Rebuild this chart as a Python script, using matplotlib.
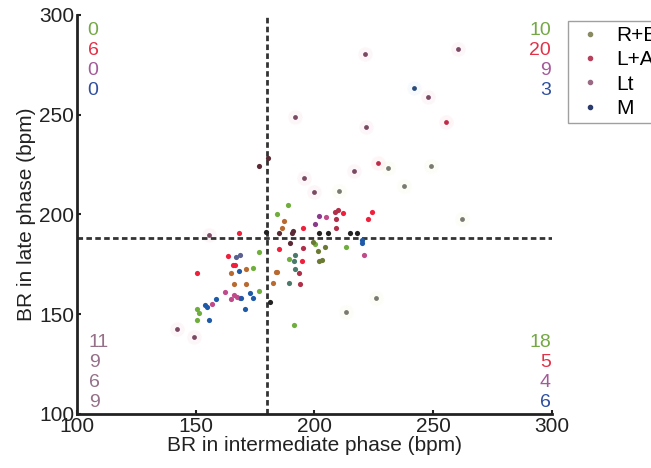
import numpy as np
from matplotlib import pyplot as plt
from matplotlib.lines import Line2D

plt.rcParams['font.family'] = ['Liberation Sans', 'DejaVu Sans']

# point groups (BR intermediate, BR late)
green_x = [176.5, 174.0, 176.5, 150.5, 151.4, 150.5, 188.7, 184.1, 213.3, 200.2, 189.3, 191.5]
green_y = [181.2, 173.2, 161.7, 152.6, 150.8, 147.1, 204.6, 200.4, 183.9, 185.0, 177.9, 144.8]
olive_x = [204.4, 201.6, 202.0, 203.0, 199.5]
olive_y = [183.9, 181.7, 176.7, 177.2, 186.0]
red_x = [163.4, 165.7, 166.5, 150.4, 168.1, 195.0, 212.0, 224.1, 222.5, 185.2, 194.7]
red_y = [179.2, 174.8, 174.7, 170.5, 190.6, 193.1, 200.6, 201.3, 197.6, 182.9, 176.7]
crimson_x = [208.5, 209.9, 209.2, 209.1, 195.3, 194.0, 193.3]
crimson_y = [201.4, 202.3, 197.6, 193.1, 183.4, 165.0, 170.8]
magenta_x = [162.4, 166.1, 167.2, 168.6, 164.8, 156.7, 204.7, 220.8]
magenta_y = [161.3, 159.6, 158.5, 158.3, 157.6, 155.3, 198.6, 179.7]
purple_x = [201.9, 200.3]
purple_y = [199.2, 195.2]
blue_x = [168.2, 172.8, 174.0, 169.1, 158.5, 154.0, 154.9, 170.6, 155.6, 219.9, 220.2]
blue_y = [171.7, 160.8, 158.0, 158.3, 157.8, 154.5, 153.5, 152.5, 147.1, 187.2, 185.9]
slate_x = [166.9, 168.6]
slate_y = [178.7, 179.7]
brown_x = [171.0, 164.8, 166.0, 171.3, 187.3, 186.3, 183.7, 184.3, 182.7]
brown_y = [172.7, 170.7, 165.0, 165.3, 196.7, 193.4, 171.2, 171.2, 165.7]
teal_x = [191.9, 191.5, 191.8, 189.3]
teal_y = [179.7, 176.9, 172.7, 165.8]
maroon_x = [176.8, 180.3, 191.1, 190.4, 185.2, 189.7]
maroon_y = [224.5, 228.5, 191.7, 190.9, 190.6, 185.9]
black_x = [202.0, 205.5, 215.0, 217.8, 179.4, 181.3]
black_y = [190.9, 190.6, 190.6, 190.9, 191.0, 156.1]

# faint haloed points
halo_pink_x = [142.0, 149.4, 155.4, 195.4, 199.9, 216.8, 221.3, 260.5, 247.9, 221.7, 191.8]
halo_pink_y = [142.8, 138.8, 189.7, 218.3, 211.1, 222.0, 280.3, 283.0, 259.1, 243.7, 248.7]
halo_red_x = [226.9, 255.4]
halo_red_y = [226.0, 246.5]
halo_grey_x = [210.3, 230.9, 248.9, 237.7, 262.1, 213.1, 225.8]
halo_grey_y = [211.9, 223.2, 224.5, 214.3, 197.7, 151.3, 158.3]
halo_blue_x = [241.8]
halo_blue_y = [263.6]

x_cut = 180
y_cut = 188

groups = ['R+B', 'L+A', 'Lt', 'M']
counts_tl = ['0', '6', '0', '0']
counts_tr = ['10', '20', '9', '3']
counts_bl = ['11', '9', '6', '9']
counts_br = ['18', '5', '4', '6']
count_colors = ['#74a845', '#e23148', '#a35a98', '#2f4f9e']
bl_color = '#957089'

fig = plt.figure(figsize=(6.51, 4.68), dpi=100)
ax = fig.add_axes([0.1183, 0.1154, 0.7296, 0.8526])

dot = dict(s=14, linewidths=0, zorder=3)
ax.scatter(green_x, green_y, color='#6fae3c', **dot)
ax.scatter(olive_x, olive_y, color='#6b7a32', **dot)
ax.scatter(red_x, red_y, color='#f0203c', **dot)
ax.scatter(crimson_x, crimson_y, color='#b0304a', **dot)
ax.scatter(magenta_x, magenta_y, color='#c04a8a', **dot)
ax.scatter(purple_x, purple_y, color='#8a3a8a', **dot)
ax.scatter(blue_x, blue_y, color='#1e5aa8', **dot)
ax.scatter(slate_x, slate_y, color='#5a6090', **dot)
ax.scatter(brown_x, brown_y, color='#b86a30', **dot)
ax.scatter(teal_x, teal_y, color='#4a7a6a', **dot)
ax.scatter(maroon_x, maroon_y, color='#5a2a35', **dot)
ax.scatter(black_x, black_y, color='#222222', **dot)

for hx, hy, hc, cc in [(halo_pink_x, halo_pink_y, '#f7c6dc', '#7a4a62'),
                       (halo_red_x, halo_red_y, '#f9c0cc', '#c02a48'),
                       (halo_grey_x, halo_grey_y, '#eef2c8', '#7a7a72'),
                       (halo_blue_x, halo_blue_y, '#c8e4f4', '#2a4a7a')]:
    ax.scatter(hx, hy, s=110, color=hc, alpha=0.15, linewidths=0, zorder=2)
    ax.scatter(hx, hy, s=12, color=cc, linewidths=0, zorder=3)

ax.plot([x_cut, x_cut], [100, 300], color='#333333', lw=2, ls=(0, (2, 1.2)), zorder=2)
ax.plot([100, 300], [y_cut, y_cut], color='#333333', lw=2, ls=(0, (2, 1.2)), zorder=2)

fs = 14
for i in range(4):
    ax.text(104.5, 292 - 10 * i, counts_tl[i], color=count_colors[i], fontsize=fs,
            ha='left', va='center')
    ax.text(299.5, 292 - 10 * i, counts_tr[i], color=count_colors[i], fontsize=fs,
            ha='right', va='center')
    ax.text(105, 135.7 - 10 * i, counts_bl[i], color=bl_color, fontsize=fs,
            ha='left', va='center')
    ax.text(299.5, 135.7 - 10 * i, counts_br[i], color=count_colors[i], fontsize=fs,
            ha='right', va='center')

ax.set_xlim(100, 300)
ax.set_ylim(100, 300)
ax.set_xticks([100, 150, 200, 250, 300])
ax.set_yticks([100, 150, 200, 250, 300])
ax.tick_params(direction='in', length=3, width=1.5, labelsize=15, color='#222222',
               labelcolor='#222222', pad=2)
for side in ['top', 'right']:
    ax.spines[side].set_visible(False)
for side in ['left', 'bottom']:
    ax.spines[side].set_linewidth(2)
    ax.spines[side].set_color('#222222')
ax.set_xlabel('BR in intermediate phase (bpm)', fontsize=15, color='#222222', labelpad=0)
ax.set_ylabel('BR in late phase (bpm)', fontsize=15, color='#222222', labelpad=2)

handles = [Line2D([], [], ls='none', marker='o', ms=3, color=c)
           for c in ['#8a8a60', '#b8405a', '#9a6a84', '#2a3a6a']]
fig.legend(handles, groups, loc='upper left', bbox_to_anchor=(0.872, 0.955),
           bbox_transform=fig.transFigure, fontsize=15, frameon=True, fancybox=False,
           edgecolor='#888888', handlelength=1.6, handletextpad=0.5, labelspacing=0.25,
           borderpad=0.25, borderaxespad=0)

fig.savefig('out.png', dpi=100)
